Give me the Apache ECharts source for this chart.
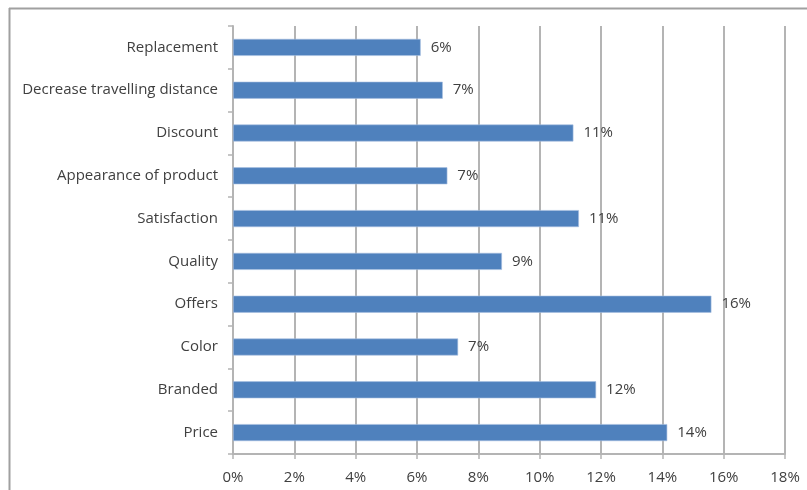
<!DOCTYPE html>
<html>
<head>
<meta charset="utf-8">
<script src="https://cdn.jsdelivr.net/npm/echarts@6/dist/echarts.min.js"></script>
<style>
  html, body { margin: 0; padding: 0; background: #fff; }
  #chart { width: 807px; height: 490px; }
</style>
</head>
<body>
<div id="chart"></div>
<script>
// Factors influencing purchase decisions (share of respondents, %)
const categories = [
  'Price', 'Branded', 'Color', 'Offers', 'Quality',
  'Satisfaction', 'Appearance of product', 'Discount',
  'Decrease travelling distance', 'Replacement'
];
const shares = [14.16, 11.84, 7.34, 15.6, 8.77, 11.28, 6.99, 11.1, 6.84, 6.12];
const xTicks = [0, 2, 4, 6, 8, 10, 12, 14, 16, 18];

const textColor = '#404040';
const lineColor = '#b4b4b4';
const fontFamily = '"Open Sans", Lato, sans-serif';

const chart = echarts.init(document.getElementById('chart'), null, { renderer: 'canvas' });
chart.setOption({
  animation: false,
  backgroundColor: '#ffffff',
  textStyle: { fontFamily: fontFamily },
  grid: { left: 233, right: 22, top: 26, bottom: 36, containLabel: false },
  xAxis: {
    type: 'value',
    min: xTicks[0],
    max: xTicks[xTicks.length - 1],
    interval: 2,
    axisLine: { show: true, lineStyle: { color: lineColor, width: 2 } },
    axisTick: { show: true, length: 5, lineStyle: { color: lineColor, width: 1.5 } },
    splitLine: { show: true, lineStyle: { color: lineColor, width: 2 } },
    axisLabel: {
      color: textColor, fontSize: 15, margin: 16,
      formatter: v => v + '%'
    }
  },
  yAxis: {
    type: 'category',
    data: categories,
    axisLine: { show: true, lineStyle: { color: lineColor, width: 2 } },
    axisTick: { show: true, length: 5, inside: false, lineStyle: { color: lineColor, width: 1.5 } },
    axisLabel: { color: textColor, fontSize: 15, margin: 15 }
  },
  series: [{
    type: 'bar',
    data: shares,
    barWidth: 17,
    itemStyle: { color: '#4f81bd', borderColor: '#a7c0e0', borderWidth: 0.6 },
    label: {
      show: true,
      position: 'right',
      distance: 10,
      color: textColor,
      fontSize: 15,
      formatter: p => Math.round(p.value) + '%'
    }
  }],
  graphic: [
    { type: 'line', shape: { x1: 9, y1: 8.5, x2: 807, y2: 8.5 }, style: { stroke: '#a0a0a0', lineWidth: 2 } },
    { type: 'line', shape: { x1: 9.5, y1: 8, x2: 9.5, y2: 490 }, style: { stroke: '#a0a0a0', lineWidth: 2 } }
  ]
});
</script>
</body>
</html>
